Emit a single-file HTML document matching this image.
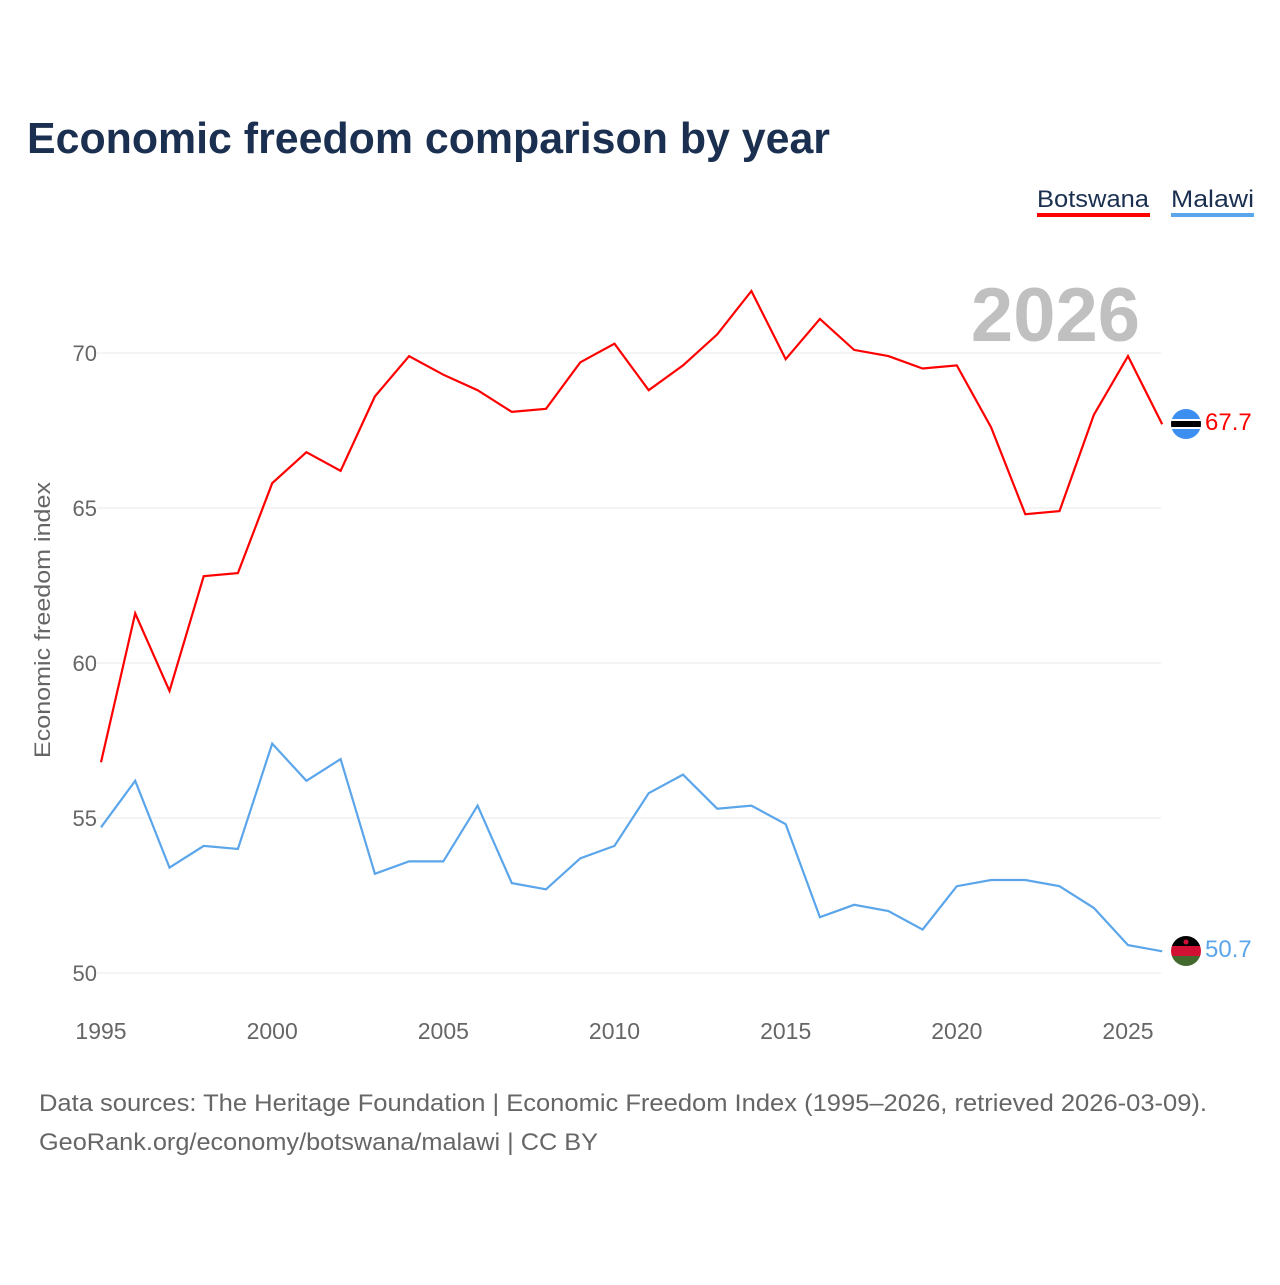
<!DOCTYPE html>
<html><head><meta charset="utf-8"><style>
body{margin:0;background:#fff;width:1280px;height:1280px;overflow:hidden;font-family:"Liberation Sans",sans-serif}
svg text{font-family:"Liberation Sans",sans-serif}
</style></head><body>
<svg id="chart" width="1280" height="1280">
<text x="27" y="153" font-size="44" font-weight="bold" fill="#1b3050" textLength="803" lengthAdjust="spacingAndGlyphs">Economic freedom comparison by year</text>
<g>
<text x="1037" y="207" font-size="24" fill="#1b3050" textLength="112" lengthAdjust="spacingAndGlyphs">Botswana</text>
<rect x="1037" y="213" width="113" height="4" fill="#ff0000"/>
<text x="1171" y="207" font-size="24" fill="#1b3050" textLength="83" lengthAdjust="spacingAndGlyphs">Malawi</text>
<rect x="1171" y="213" width="83" height="4" fill="#5ba6ea"/>
</g>
<text x="1140" y="341" font-size="76" font-weight="bold" fill="#c0c0c0" text-anchor="end">2026</text>
<g id="grid"></g><g id="axes"></g><g id="series"></g>
<text transform="translate(50,620) rotate(-90)" font-size="22" fill="#666" text-anchor="middle" textLength="276" lengthAdjust="spacingAndGlyphs">Economic freedom index</text>
<text x="39" y="1111" font-size="24" fill="#666" textLength="1168" lengthAdjust="spacingAndGlyphs">Data sources: The Heritage Foundation | Economic Freedom Index (1995–2026, retrieved 2026-03-09).</text>
<text x="39" y="1150" font-size="24" fill="#666" textLength="559" lengthAdjust="spacingAndGlyphs">GeoRank.org/economy/botswana/malawi | CC BY</text>
<g>
<clipPath id="c1"><circle cx="1186" cy="424" r="15"/></clipPath>
<g clip-path="url(#c1)"><rect x="1170" y="408" width="32" height="32" fill="#3c8ff0"/><rect x="1170" y="419" width="32" height="10" fill="#fff"/><rect x="1170" y="421" width="32" height="6" fill="#000"/></g></g>
<g>
<clipPath id="c2"><circle cx="1186" cy="951" r="15"/></clipPath>
<g clip-path="url(#c2)"><rect x="1170" y="935" width="32" height="11" fill="#000"/><rect x="1170" y="946" width="32" height="10" fill="#d21034"/><rect x="1170" y="956" width="32" height="11" fill="#44692f"/><circle cx="1186" cy="942" r="2.5" fill="#d21034"/></g></g>
<text x="1205" y="430" font-size="24" fill="#ff0000">67.7</text>
<text x="1205" y="957" font-size="24" fill="#5ba6ea">50.7</text>
</svg>
<script>
const years=[1995,1996,1997,1998,1999,2000,2001,2002,2003,2004,2005,2006,2007,2008,2009,2010,2011,2012,2013,2014,2015,2016,2017,2018,2019,2020,2021,2022,2023,2024,2025,2026];
const botswana=[56.8,61.6,59.1,62.8,62.9,65.8,66.8,66.2,68.6,69.9,69.3,68.8,68.1,68.2,69.7,70.3,68.8,69.6,70.6,72.0,69.8,71.1,70.1,69.9,69.5,69.6,67.6,64.8,64.9,68.0,69.9,67.7];
const malawi=[54.7,56.2,53.4,54.1,54.0,57.4,56.2,56.9,53.2,53.6,53.6,55.4,52.9,52.7,53.7,54.1,55.8,56.4,55.3,55.4,54.8,51.8,52.2,52.0,51.4,52.8,53.0,53.0,52.8,52.1,50.9,50.7];
const yTicks=[50,55,60,65,70];
const xTicks=[1995,2000,2005,2010,2015,2020,2025];
const NS='http://www.w3.org/2000/svg';
const x=v=>101+(v-1995)*(1128-101)/30;
const y=v=>973-(v-50)*31;
function mk(t,a,p){const e=document.createElementNS(NS,t);for(const k in a)e.setAttribute(k,a[k]);p.appendChild(e);return e;}
const grid=document.getElementById('grid'),axes=document.getElementById('axes'),ser=document.getElementById('series');
yTicks.forEach(t=>{
 const l=mk('line',{x1:97,x2:1161,y1:y(t),y2:y(t),stroke:'#e8e8e8','stroke-width':1},grid);
 
 
 const tx=mk('text',{x:97,y:y(t)+8,'font-size':22,fill:'#666','text-anchor':'end'},axes);
 tx.textContent=t;
 
 
});
xTicks.forEach(t=>{
 const tx=mk('text',{x:x(t),y:1039,'font-size':23,fill:'#666','text-anchor':'middle'},axes);
 tx.textContent=t;
 
 
});
function line(vals,color,name){
 const d=vals.map((v,i)=>(i?'L':'M')+x(years[i]).toFixed(1)+','+y(v).toFixed(1)).join('');
 const p=mk('path',{d:d,fill:'none',stroke:color,'stroke-width':2.2,'stroke-linejoin':'miter'},ser);
 
 
}
line(botswana,'#ff0000','botswana-line');
line(malawi,'#5ba6ea','malawi-line');
</script>
</body></html>
